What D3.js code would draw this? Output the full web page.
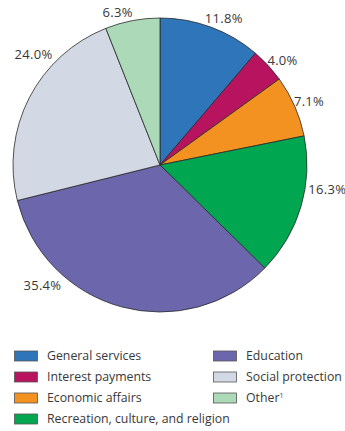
<!DOCTYPE html>
<html>
<head>
<meta charset="utf-8">
<script src="https://cdn.jsdelivr.net/npm/d3@7"></script>
<style>
  body { margin: 0; background: #fff; }
  svg { display: block; }
  text { font-family: "Open Sans", "Noto Sans", sans-serif; fill: #383838; }
</style>
</head>
<body>
<svg width="345" height="431"></svg>
<script>
// slice data, clockwise from 12 o'clock
var categories = ["General services", "Interest payments", "Economic affairs",
  "Recreation, culture, and religion", "Education", "Social protection", "Other"];
var shares = [11.8, 4.0, 7.1, 16.3, 35.4, 24.0, 6.3];
var colors = ["#2e75b9", "#b8135f", "#f39220", "#00a650", "#6c66ad", "#d3d9e4", "#acdab8"];
// legend order (two columns)
var legendLeft = ["General services", "Interest payments", "Economic affairs", "Recreation, culture, and religion"];
var legendRight = ["Education", "Social protection", "Other"];

var svg = d3.select("svg"),
    cx = 160, cy = 165, radius = 147;

var color = d3.scaleOrdinal().domain(categories).range(colors);

var pie = d3.pie().sort(null).value(function(d) { return d.value; });
var slices = pie(categories.map(function(c, i) { return { name: c, value: shares[i] }; }));

var arc = d3.arc().innerRadius(0).outerRadius(radius);

var holdAll = svg.append("g").attr("transform", "translate(" + cx + "," + cy + ")");

holdAll.selectAll("path")
    .data(slices)
    .enter().append("path")
    .attr("d", arc)
    .attr("fill", function(d) { return color(d.data.name); })
    .attr("stroke", "#2a2a2a")
    .attr("stroke-width", 0.8);

// where along each slice the label sits (0 = start, 1 = end) and how far out
var labelFrac = [0.58, 0.66, 0.52, 0.35, 0.74, 0.67, 0.28];
var labelDist = [160, 161, 162, 169, 168, 168, 158];

holdAll.selectAll("text.pct")
    .data(slices)
    .enter().append("text")
    .attr("class", "pct")
    .attr("text-anchor", "middle")
    .attr("dy", "0.35em")
    .attr("font-size", 13)
    .attr("letter-spacing", 0.3)
    .attr("transform", function(d, i) {
        var a = d.startAngle + labelFrac[i] * (d.endAngle - d.startAngle);
        var r = labelDist[i];
        return "translate(" + (Math.sin(a) * r) + "," + (-Math.cos(a) * r) + ")";
    })
    .text(function(d) { return d.data.value.toFixed(1) + "%"; });

// legend
var rowY = d3.scalePoint().domain([0, 1, 2, 3]).range([356, 419]);

function drawColumn(names, x) {
    var g = svg.append("g").selectAll("g")
        .data(names)
        .enter().append("g")
        .attr("transform", function(d, i) { return "translate(" + x + "," + rowY(i) + ")"; });
    g.append("rect")
        .attr("x", 0.5).attr("y", -5)
        .attr("width", 23).attr("height", 10)
        .attr("fill", function(d) { return color(d); })
        .attr("stroke", "#555")
        .attr("stroke-width", 0.8);
    var t = g.append("text")
        .attr("x", 33)
        .attr("dy", "0.35em")
        .attr("font-size", 12.3);
    t.append("tspan").text(function(d) { return d; });
    t.filter(function(d) { return d === "Other"; })
        .append("tspan").attr("font-size", 7).attr("dy", "-0.6em").text("1");
}
drawColumn(legendLeft, 14);
drawColumn(legendRight, 213);
</script>
</body>
</html>
